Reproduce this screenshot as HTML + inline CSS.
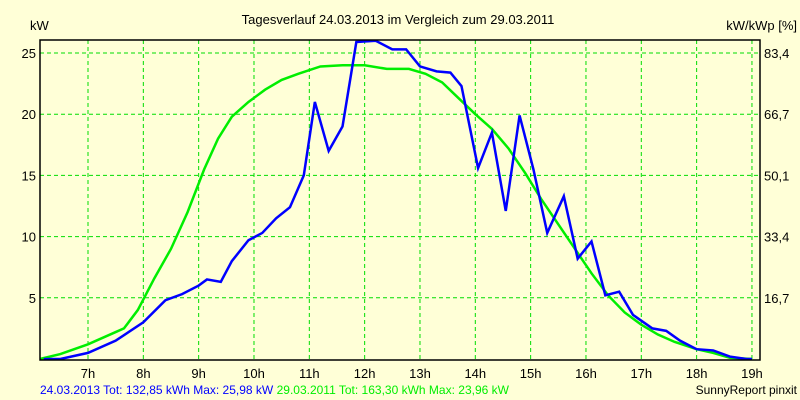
<!DOCTYPE html>
<html><head><meta charset="utf-8"><style>
body{margin:0;background:#ffffd7;}
svg{display:block;font-family:"Liberation Sans",sans-serif;}
</style></head><body>
<svg id="c" width="800" height="400">
<rect width="800" height="400" fill="#ffffd7"/>
<text x="398" y="24" font-size="13" text-anchor="middle">Tagesverlauf 24.03.2013 im Vergleich zum 29.03.2011</text>
<text x="30" y="30" font-size="13">kW</text>
<text x="797" y="30" font-size="13" text-anchor="end">kW/kWp [%]</text>
<g id="grid"></g><g id="series"></g>
<rect x="40" y="40" width="720" height="320" fill="none" stroke="#000" stroke-width="1.5"/>
<text x="40" y="394" font-size="12"><tspan fill="#0000ff">24.03.2013 Tot: 132,85 kWh Max: 25,98 kW </tspan><tspan fill="#00ee00">29.03.2011 Tot: 163,30 kWh Max: 23,96 kW</tspan></text>
<text x="797" y="394" font-size="12" text-anchor="end">SunnyReport pinxit</text>
</svg>
<script>
const hourTicks=[7,8,9,10,11,12,13,14,15,16,17,18,19];
const yTicks=[5,10,15,20,25];
const y2Labels=["16,7","33,4","50,1","66,7","83,4"];
const blueT=[6.2,6.5,7,7.5,8,8.4,8.7,9,9.15,9.4,9.6,9.9,10.15,10.4,10.65,10.9,11.1,11.35,11.6,11.85,12.2,12.5,12.75,13,13.3,13.55,13.75,14.05,14.3,14.55,14.8,15.05,15.3,15.6,15.85,16.1,16.35,16.6,16.85,17.2,17.45,17.7,18,18.3,18.6,18.9,19];
const blueV=[0,0,0.5,1.5,3,4.8,5.3,6,6.5,6.3,8,9.7,10.3,11.5,12.4,15,21,17,19,25.9,26,25.3,25.3,23.9,23.5,23.4,22.3,15.6,18.5,12.1,19.9,15.5,10.3,13.3,8.2,9.6,5.2,5.5,3.6,2.5,2.3,1.5,0.8,0.7,0.2,0,0];
const greenT=[6.13,6.5,7,7.5,7.65,7.9,8.2,8.5,8.8,9.1,9.35,9.6,9.9,10.2,10.5,10.8,11.2,11.6,12,12.4,12.8,13.1,13.4,13.7,14,14.3,14.6,14.9,15.2,15.5,15.8,16.1,16.4,16.7,17,17.3,17.6,18,18.3,18.6,19];
const greenV=[0,0.4,1.2,2.2,2.5,4,6.6,9,12,15.5,18,19.8,21,22,22.8,23.3,23.9,24,24,23.7,23.7,23.3,22.6,21.3,20,18.8,17.2,15.2,13,11,9,7,5.2,3.8,2.8,2,1.4,0.8,0.5,0.1,0];
const xS=h=>88+(h-7)*55.33, yS=v=>359-v*12.24;
const NS="http://www.w3.org/2000/svg";
const grid=document.getElementById('grid'), ser=document.getElementById('series'), svg=document.getElementById('c');
function mk(tag,attrs,parent){const e=document.createElementNS(NS,tag);for(const k in attrs)e.setAttribute(k,attrs[k]);parent.appendChild(e);return e;}
hourTicks.forEach(h=>{
 const l=mk('line',{x1:xS(h),x2:xS(h),y1:40,y2:360,stroke:'#00dd00','stroke-dasharray':'4,3'},grid);
 
 
 const t=mk('text',{x:xS(h),y:378,'font-size':13,'text-anchor':'middle'},svg);t.textContent=h+'h';
 
 
});
yTicks.forEach((v,i)=>{
 const l=mk('line',{x1:40,x2:760,y1:yS(v),y2:yS(v),stroke:'#00dd00','stroke-dasharray':'4,3'},grid);
 
 
 const t=mk('text',{x:36,y:yS(v)+5,'font-size':13,'text-anchor':'end'},svg);t.textContent=v;
 
 
 const t2=mk('text',{x:764,y:yS(v)+5,'font-size':13},svg);t2.textContent=y2Labels[i];
 
 
});
function line(T,V,col,name){
 const p=mk('polyline',{points:T.map((t,i)=>xS(t)+','+yS(V[i])).join(' '),fill:'none',stroke:col,'stroke-width':2.5},ser);
 
 
}
line(greenT,greenV,'#00ee00','series-2011');
line(blueT,blueV,'#0000ff','series-2013');
</script>
</body></html>
